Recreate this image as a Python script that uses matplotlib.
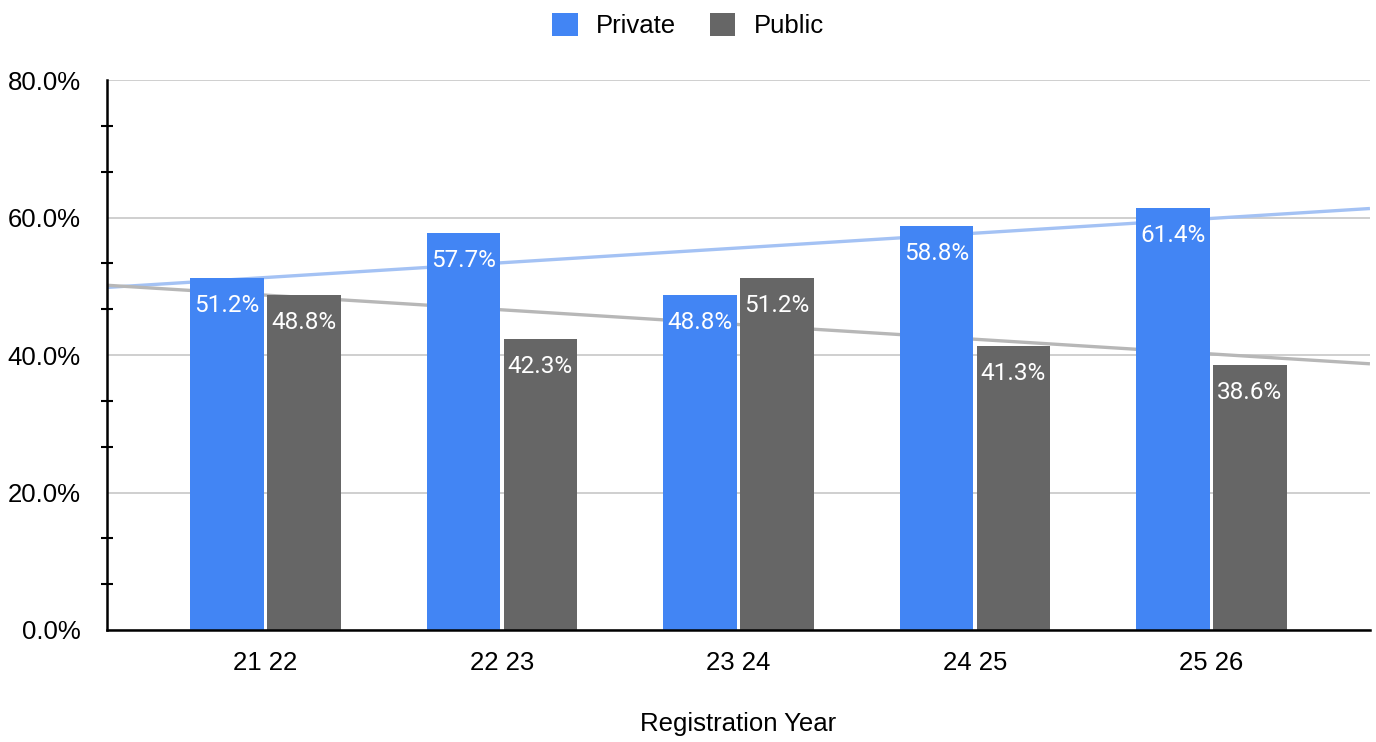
import numpy as np
import matplotlib.pyplot as plt
from matplotlib.ticker import MultipleLocator, FuncFormatter

# share of registrations per year
years = ['21 22', '22 23', '23 24', '24 25', '25 26']
private = [51.2, 57.7, 48.8, 58.8, 61.4]
public = [48.8, 42.3, 51.2, 41.3, 38.6]

BLUE = '#4285f4'
GRAY = '#666666'

plt.rcParams['font.family'] = ['Liberation Sans', 'DejaVu Sans']

fig = plt.figure(figsize=(13.76, 7.42), dpi=100)
ax = fig.add_axes([0.0778, 0.151, 0.9178, 0.741])

x = np.arange(len(years))
width = 0.31
off = 0.1625

b1 = ax.bar(x - off, private, width, color=BLUE, label='Private', zorder=3)
b2 = ax.bar(x + off, public, width, color=GRAY, label='Public', zorder=3)

# linear trend lines across the full width
xlim = (-0.67, 4.67)
xs = np.array(xlim)
for vals, col in [(private, '#a4c2f4'), (public, '#b7b7b7')]:
    k, b = np.polyfit(x, vals, 1)
    ax.plot(xs, k * xs + b, color=col, lw=2.4, zorder=2, solid_capstyle='butt')

# value labels inside the top of each bar
for bars, vals in [(b1, private), (b2, public)]:
    for rect, v in zip(bars, vals):
        ax.annotate(f'{v:.1f}%', (rect.get_x() + rect.get_width() / 2, v),
                    xytext=(0, -11.5), textcoords='offset points',
                    ha='center', va='top', color='white', fontsize=17.5,
                    family=['Roboto', 'DejaVu Sans'], zorder=4)

ax.set_xlim(*xlim)
ax.set_ylim(0, 80)
ax.set_xticks(x)
ax.set_xticklabels(years, fontsize=18.5)
ax.yaxis.set_major_locator(MultipleLocator(20))
ax.yaxis.set_minor_locator(MultipleLocator(20 / 3))
ax.yaxis.set_major_formatter(FuncFormatter(lambda v, p: f'{v:.1f}%'))
ax.tick_params(axis='y', which='major', length=0, labelsize=18.5, pad=19)
ax.tick_params(axis='y', which='minor', length=9, width=1.5, direction='inout')
ax.tick_params(axis='x', length=0, pad=15)
ax.grid(axis='y', which='major', color='#cccccc', lw=1.3, zorder=0)

for s in ['top', 'right']:
    ax.spines[s].set_visible(False)
for s in ['left', 'bottom']:
    ax.spines[s].set_linewidth(1.8)
    ax.spines[s].set_zorder(5)

ax.set_xlabel('Registration Year', fontsize=18.5, labelpad=27)

fig.legend(handles=[b1, b2], loc='upper center', bbox_to_anchor=(0.5, 1.014),
           ncol=2, frameon=False, fontsize=18.5, handlelength=1.0, handleheight=1.0,
           columnspacing=1.3, handletextpad=0.7)

fig.savefig('out.png', dpi=100)
